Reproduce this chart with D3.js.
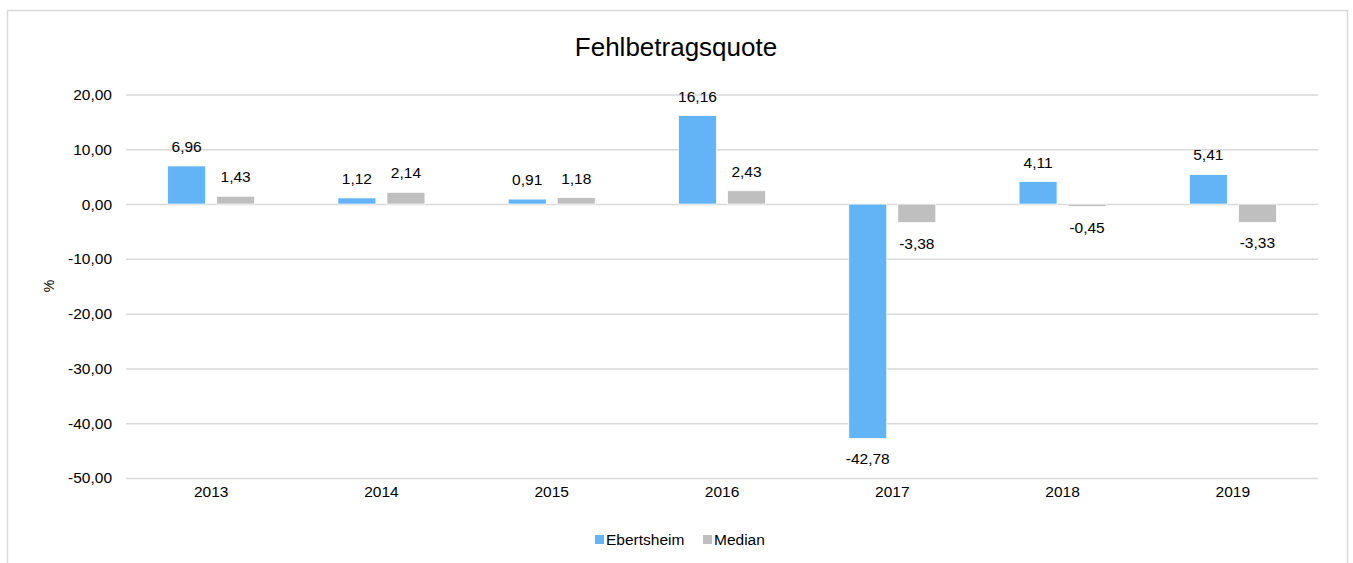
<!DOCTYPE html>
<html>
<head>
<meta charset="utf-8">
<script src="https://cdn.jsdelivr.net/npm/d3@7"></script>
<style>
  html, body { margin: 0; padding: 0; background: #fff; }
  svg { display: block; font-family: "Liberation Sans", Arial, sans-serif; }
</style>
</head>
<body>
<svg id="chart" width="1353" height="563"></svg>
<script>
// Fehlbetragsquote: Ebertsheim vs. Median, 2013–2019
const years = ["2013", "2014", "2015", "2016", "2017", "2018", "2019"];
const ebertsheim = [6.96, 1.12, 0.91, 16.16, -42.78, 4.11, 5.41];
const median = [1.43, 2.14, 1.18, 2.43, -3.38, -0.45, -3.33];
const seriesNames = ["Ebertsheim", "Median"];
const seriesColors = ["#63b4f6", "#bfbfbf"];
const yTicks = [20, 10, 0, -10, -20, -30, -40, -50];

const svg = d3.select("#chart");
const plot = { left: 126, right: 1318, top: 94.5, bottom: 478 };
const FS = 15.5;

const fmt = v => d3.format(".2f")(v).replace(".", ",").replace("−", "-");

// outer frame
svg.append("rect")
  .attr("x", 7.5).attr("y", 10.5)
  .attr("width", 1340).attr("height", 560)
  .attr("fill", "#fff").attr("stroke", "#d9d9d9").attr("stroke-width", 1.5);

// title
svg.append("text")
  .attr("x", 676).attr("y", 56)
  .attr("text-anchor", "middle")
  .attr("font-size", 26).attr("fill", "#000")
  .text("Fehlbetragsquote");

const x = d3.scaleBand().domain(years).range([plot.left, plot.right]);
const y = d3.scaleLinear().domain([-50, 20]).range([plot.bottom, plot.top]);

// gridlines + y tick labels
const yAxis = d3.axisLeft(y).tickValues(yTicks)
  .tickSize(-(plot.right - plot.left)).tickFormat(fmt).tickPadding(14);
const gy = svg.append("g").attr("transform", `translate(${plot.left},0)`).call(yAxis);
gy.select(".domain").remove();
gy.selectAll(".tick line").attr("stroke", "#d9d9d9").attr("stroke-width", 1.5);
gy.selectAll(".tick text").attr("font-size", FS).attr("fill", "#000")
  .attr("font-family", "Liberation Sans, Arial, sans-serif");

// y axis title
svg.append("text")
  .attr("transform", `translate(54,286) rotate(-90)`)
  .attr("text-anchor", "middle").attr("font-size", 14).attr("fill", "#000")
  .text("%");

// x labels
const xAxis = d3.axisBottom(x).tickSize(0).tickPadding(8);
const gx = svg.append("g").attr("transform", `translate(0,${plot.bottom})`).call(xAxis);
gx.select(".domain").remove();
gx.selectAll(".tick text").attr("font-size", FS).attr("fill", "#000")
  .attr("font-family", "Liberation Sans, Arial, sans-serif");

// bars
const bw = x.bandwidth();
const barW = bw * 0.223;
const gap = bw * 0.065;
const offsets = [-(gap / 2 + barW), gap / 2];
const data = [ebertsheim, median];

data.forEach((vals, si) => {
  const g = svg.append("g");
  years.forEach((yr, i) => {
    const v = vals[i];
    const cx = x(yr) + bw / 2 + offsets[si];
    const y0 = y(0), y1 = y(v);
    g.append("rect")
      .attr("x", cx).attr("width", barW)
      .attr("y", Math.min(y0, y1)).attr("height", Math.abs(y1 - y0))
      .attr("fill", seriesColors[si])
      .attr("stroke", "#fff").attr("stroke-width", 0.75);
    g.append("text")
      .attr("x", cx + barW / 2)
      .attr("y", v >= 0 ? y1 - 14 : y1 + 26)
      .attr("text-anchor", "middle")
      .attr("font-size", FS).attr("fill", "#000")
      .text(fmt(v));
  });
});

// legend
const legend = svg.append("g");
const legendX = [595, 703];
seriesNames.forEach((name, i) => {
  legend.append("rect")
    .attr("x", legendX[i]).attr("y", 535)
    .attr("width", 9).attr("height", 9)
    .attr("fill", seriesColors[i]);
  legend.append("text")
    .attr("x", legendX[i] + 11).attr("y", 545)
    .attr("font-size", FS).attr("fill", "#000")
    .text(name);
});
</script>
</body>
</html>
